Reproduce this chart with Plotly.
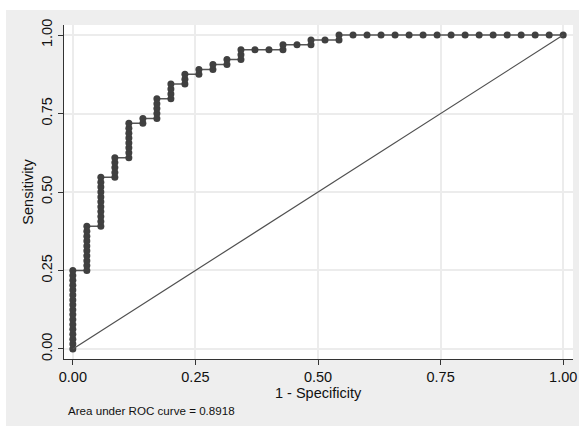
import plotly.graph_objects as go

# Data
n_neg = 35          # number of negatives (x step = 1/35)
n_pos = 64          # number of positives (y step = 1/64)
# number of true positives reached at each false-positive count k = 0..35
tp_tops = [16, 25, 35, 39, 46, 47, 51, 54, 56, 57, 58, 59, 61, 61, 61, 62, 62, 63, 63,
           64, 64, 64, 64, 64, 64, 64, 64, 64, 64, 64, 64, 64, 64, 64, 64, 64]
x_ticks = [0, 0.25, 0.5, 0.75, 1.0]
y_ticks = [0, 0.25, 0.5, 0.75, 1.0]
x_title = "1 - Specificity"
y_title = "Sensitivity"
auc_text = "Area under ROC curve = 0.8918"

# Build ROC points (one per cutpoint)
fpr, tpr = [], []
prev = 0
for k, top in enumerate(tp_tops):
    start = prev if k > 0 else 0
    for t in range(start, top + 1):
        fpr.append(k / n_neg)
        tpr.append(t / n_pos)
    prev = top

W, H = 581, 427
ml, mr, mt, mb = 64, 8, 25, 68
pw, ph = W - ml - mr, H - mt - mb

fig = go.Figure()
fig.add_trace(go.Scatter(
    x=fpr, y=tpr, mode="lines+markers",
    line=dict(color="#555555", width=1.5),
    marker=dict(color="#404040", size=7),
    showlegend=False, hoverinfo="skip"))
fig.add_trace(go.Scatter(
    x=[0, 1], y=[0, 1], mode="lines",
    line=dict(color="#505050", width=1.2),
    showlegend=False, hoverinfo="skip"))

font_family = "Liberation Sans, Arial, sans-serif"
axis_common = dict(
    showgrid=True, gridcolor="#ececec", gridwidth=1.5,
    zeroline=False, showline=True, linecolor="#333333", linewidth=1,
    ticks="outside", ticklen=5, tickcolor="#333333", tickwidth=1,
    tickformat=".2f", tickfont=dict(size=14.5, color="#111111", family=font_family),
    mirror=False, automargin=False,
)

fig.update_layout(
    width=W, height=H,
    margin=dict(l=ml, r=mr, t=mt, b=mb),
    paper_bgcolor="white", plot_bgcolor="white",
    font=dict(family=font_family, color="#111111"),
    xaxis=dict(range=[-0.018, 1.020], tickvals=x_ticks, **axis_common),
    yaxis=dict(range=[-0.032, 1.032], tickvals=y_ticks, tickangle=-90,
               title=dict(text=y_title, font=dict(size=14.5), standoff=2),
               **axis_common),
    shapes=[dict(type="rect", xref="paper", yref="paper", layer="below",
                 x0=(6 - ml) / pw, x1=(579 - ml) / pw,
                 y0=(H - 426 - mb) / ph, y1=(H - 10 - mb) / ph,
                 fillcolor="#eeeeee", line=dict(width=0)),
            dict(type="rect", xref="paper", yref="paper", layer="below",
                 x0=0, x1=1, y0=0, y1=1,
                 fillcolor="white", line=dict(width=0))],
    annotations=[
        dict(text=x_title, xref="paper", yref="paper",
             x=0.5, y=(H - 393 - mb) / ph,
             xanchor="center", yanchor="middle", showarrow=False,
             font=dict(size=14.5, color="#111111", family=font_family)),
        dict(text=auc_text, xref="paper", yref="paper",
             x=(66 - ml) / pw, y=(H - 410 - mb) / ph,
             xanchor="left", yanchor="middle", showarrow=False,
             font=dict(size=11.6, color="#111111", family=font_family))],
)

fig.write_html("out.html", config={"displayModeBar": False},
               post_script="document.body.style.margin='0';document.body.style.overflow='hidden';")
